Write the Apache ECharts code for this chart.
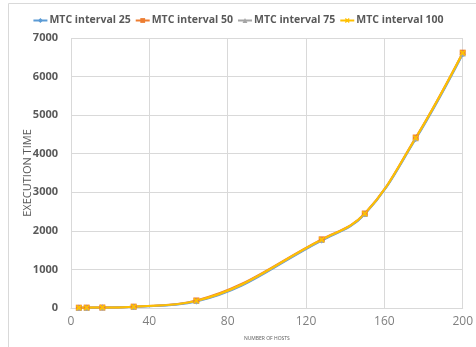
<!DOCTYPE html>
<html>
<head>
<meta charset="utf-8">
<script src="https://cdn.jsdelivr.net/npm/echarts@6/dist/echarts.min.js"></script>
<style>
  html, body { margin: 0; padding: 0; background: #fff; }
  #main { width: 476px; height: 347px; }
</style>
</head>
<body>
<div id="main"></div>
<script>
  // number of hosts (x) and execution time per MTC interval
  var hosts = [4, 8, 16, 32, 64, 128, 150, 176, 200];
  var mtc25 = [5, 8, 10, 30, 170, 1750, 2430, 4380, 6580];
  var mtc50 = [8, 10, 12, 35, 195, 1780, 2450, 4420, 6620];
  var mtc75 = [6, 9, 11, 32, 180, 1760, 2440, 4400, 6600];
  var mtc100 = [7, 9, 12, 34, 185, 1770, 2445, 4410, 6610];
  var seriesNames = ['MTC interval 25', 'MTC interval 50', 'MTC interval 75', 'MTC interval 100'];

  function pairs(ys) {
    return hosts.map(function (x, i) { return [x, ys[i]]; });
  }

  var myChart = echarts.init(document.getElementById('main'));
  var colors = ['#5B9BD5', '#ED7D31', '#A5A5A5', '#FFC000'];
  var symbols = ['diamond', 'rect', 'triangle', 'path://M0,4L4,0L5,1L1,5ZM4,5L0,1L1,0L5,4Z'];
  var allData = [mtc25, mtc50, mtc75, mtc100];

  var series = allData.map(function (d, i) {
    return {
      name: seriesNames[i],
      type: 'line',
      smooth: 0.4,
      data: pairs(d),
      symbol: symbols[i],
      symbolSize: 6,
      showAllSymbol: true,
      lineStyle: { width: 2, color: colors[i] },
      itemStyle: { color: colors[i] }
    };
  });

  var option = {
    animation: false,
    color: colors,
    graphic: [{
      type: 'rect',
      shape: { x: 8.5, y: 3.5, width: 500, height: 400 },
      style: { fill: null, stroke: '#d9d9d9', lineWidth: 1 },
      silent: true
    }],
    legend: {
      top: 10,
      left: 'center',
      itemWidth: 14,
      itemHeight: 6,
      itemGap: 4,
      textStyle: { color: '#595959', fontSize: 10.5, fontWeight: 'bold', fontFamily: 'Open Sans', padding: [0, 0, 0, -3] },
      data: seriesNames
    },
    grid: { left: 71, right: 10, top: 38, bottom: 39 },
    xAxis: {
      type: 'value',
      min: 0,
      max: 200,
      interval: 40,
      name: 'NUMBER OF HOSTS',
      nameLocation: 'middle',
      nameGap: 28,
      nameMoveOverlap: false,
      nameTextStyle: { color: '#595959', fontSize: 5, fontFamily: 'Open Sans' },
      axisLine: { show: true, lineStyle: { color: '#d9d9d9' } },
      axisTick: { show: false },
      axisLabel: { color: '#7f7f7f', fontSize: 12, fontFamily: 'Open Sans', margin: 8 },
      splitLine: { show: true, lineStyle: { color: '#d9d9d9' } }
    },
    yAxis: {
      type: 'value',
      min: 0,
      max: 7000,
      interval: 1000,
      name: 'EXECUTION TIME',
      nameLocation: 'middle',
      nameGap: 38,
      nameMoveOverlap: false,
      nameTextStyle: { color: '#595959', fontSize: 11, fontFamily: 'Open Sans' },
      axisLine: { show: false },
      axisTick: { show: false },
      axisLabel: {
        color: '#595959', fontSize: 11, fontWeight: 'bold', fontFamily: 'Open Sans', margin: 13,
        formatter: function (v) { return String(v); }
      },
      splitLine: { show: true, lineStyle: { color: '#d9d9d9' } }
    },
    series: series
  };

  myChart.setOption(option);
</script>
</body>
</html>
